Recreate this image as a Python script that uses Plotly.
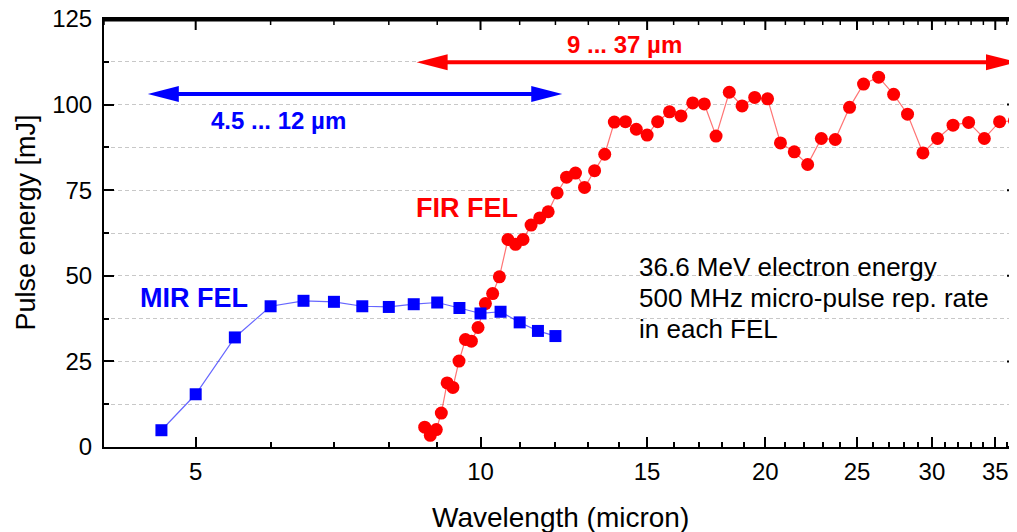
import math
import plotly.graph_objects as go

# ---------------- data ----------------
mir_x = [4.6, 5.0, 5.5, 6.0, 6.5, 7.0, 7.5, 8.0, 8.5, 9.0, 9.5, 10.0, 10.5, 11.0, 11.5, 12.0]
mir_y = [4.9, 15.4, 32.0, 41.1, 42.7, 42.4, 41.1, 40.9, 41.7, 42.2, 40.6, 39.0, 39.5, 36.4, 33.9, 32.4]

fir_x = [8.73, 8.85, 8.98, 9.09, 9.22, 9.35, 9.49, 9.64, 9.78, 9.94,
         10.12, 10.30, 10.47, 10.69, 10.89, 11.09, 11.31, 11.55, 11.79, 12.05,
         12.33, 12.60, 12.88, 13.20, 13.53, 13.85, 14.23, 14.61, 15.00, 15.39,
         15.84, 16.29, 16.76, 17.24, 17.74, 18.32, 18.90, 19.49, 20.11, 20.75,
         21.46, 22.17, 22.92, 23.71, 24.55, 25.40, 26.35, 27.33, 28.27, 29.35,
         30.41, 31.58, 32.80, 34.08, 35.37, 36.68]
fir_y = [5.8, 3.4, 5.1, 9.9, 18.7, 17.4, 25.1, 31.4, 30.9, 34.9,
         41.9, 44.8, 49.7, 60.6, 59.2, 60.6, 64.8, 66.9, 68.7, 74.2,
         78.8, 80.0, 75.8, 80.7, 85.5, 94.9, 95.0, 92.8, 91.1, 95.0,
         97.9, 96.7, 100.5, 100.2, 90.8, 103.6, 99.6, 102.1, 101.7, 88.8,
         86.2, 82.5, 90.1, 89.8, 99.2, 106.0, 108.0, 103.0, 97.2, 85.9,
         90.1, 94.0, 94.8, 90.1, 95.0, 95.3]

# tuning ranges shown as double arrows: [start, end], level
mir_range = [4.45, 12.2]
mir_level = 103.1
fir_range = [8.56, 36.9]
fir_level = 112.4

x_tickvals = [5, 10, 15, 20, 25, 30, 35]
x_ticktext = ["5", "10", "15", "20", "25", "30", "35"]
x_minor = [4, 6, 7, 8, 9, 11, 12, 13, 14, 16, 17, 18, 19, 21, 22, 23, 24,
           26, 27, 28, 29, 31, 32, 33, 34, 36]
y_tickvals = [0, 25, 50, 75, 100, 125]
y_minor = [12.5, 37.5, 62.5, 87.5, 112.5]

BLUE = "#0000ff"
RED = "#ff0000"
FONT = "Liberation Sans, Arial, sans-serif"

# plot area in screen pixels: x 104..1017, y 19..447 (page body has an 8px margin)
PW, PH = 913.0, 428.0

fig = go.Figure()
fig.add_trace(go.Scatter(
    x=fir_x, y=fir_y, mode="lines+markers",
    line=dict(color="rgba(255,0,0,0.55)", width=1.2),
    marker=dict(symbol="circle", size=13, color=RED),
    showlegend=False))
fig.add_trace(go.Scatter(
    x=mir_x, y=mir_y, mode="lines+markers",
    line=dict(color="rgba(0,0,255,0.6)", width=1.2),
    marker=dict(symbol="square", size=12, color=BLUE),
    showlegend=False))

HEAD_L, HEAD_W = 31, 8
ann = []
shapes = []
for rng, lvl, col in [(mir_range, mir_level, BLUE), (fir_range, fir_level, RED)]:
    ann.append(dict(x=math.log10(rng[1]), y=lvl, ax=math.log10(rng[0]), ay=lvl,
                    xref="x", yref="y", axref="x", ayref="y", text="",
                    showarrow=True, arrowhead=0, arrowwidth=4, arrowcolor=col,
                    standoff=HEAD_L - 6, startstandoff=HEAD_L - 6))
    shapes.append(dict(type="path", xref="x", yref="y", xsizemode="pixel", ysizemode="pixel",
                       xanchor=rng[0], yanchor=lvl,
                       path=f"M0,0 L{HEAD_L},{HEAD_W} L{HEAD_L},{-HEAD_W} Z",
                       fillcolor=col, line=dict(width=0), layer="above"))
    shapes.append(dict(type="path", xref="x", yref="y", xsizemode="pixel", ysizemode="pixel",
                       xanchor=rng[1], yanchor=lvl,
                       path=f"M0,0 L{-HEAD_L},{HEAD_W} L{-HEAD_L},{-HEAD_W} Z",
                       fillcolor=col, line=dict(width=0), layer="above"))

# frame: top and right lines with inward ticks
shapes.append(dict(type="line", xref="paper", yref="paper", x0=0, x1=1, y0=0.997, y1=0.997,
                   line=dict(color="black", width=2.5), layer="above"))
shapes.append(dict(type="line", xref="paper", yref="paper", x0=0.999, x1=0.999, y0=0, y1=1,
                   line=dict(color="black", width=2.5), layer="above"))
for vals, ln, w in [(x_tickvals, 11, 2), (x_minor, 6, 1.5)]:
    for v in vals:
        shapes.append(dict(type="line", xref="x", yref="paper", x0=v, x1=v,
                           y0=1, y1=1 - ln / PH, line=dict(color="black", width=w),
                           layer="above"))
for vals, ln, w in [(y_tickvals, 10, 2), (y_minor, 5, 1.5)]:
    for v in vals:
        shapes.append(dict(type="line", xref="paper", yref="y", x0=1, x1=1 - ln / PW,
                           y0=v, y1=v, line=dict(color="black", width=w), layer="above"))

def px(xp):
    return (xp - 104) / PW

def py(yp):
    return (447 - yp) / PH

def label(text, xp, yp, size, color="black", bold=False, xanchor="center", angle=0):
    t = f"<b>{text}</b>" if bold else text
    ann.append(dict(x=px(xp), y=py(yp), xref="paper", yref="paper", text=t,
                    showarrow=False, xanchor=xanchor, yanchor="middle", textangle=angle,
                    font=dict(family=FONT, size=size, color=color)))

label("4.5 ... 12 µm", 278, 121, 24, BLUE, True)
label("9 ... 37 µm", 624, 44, 24, RED, True)
label("FIR FEL", 466.5, 208, 27, RED, True)
label("MIR FEL", 194, 297.5, 27, BLUE, True)
label("36.6 MeV electron energy", 637, 267, 26, xanchor="left")
label("500 MHz micro-pulse rep. rate", 637, 298, 26, xanchor="left")
label("in each FEL", 637, 329, 26, xanchor="left")
label("Wavelength (micron)", 560.5, 517, 28)
label("Pulse energy [mJ]", 25, 222.5, 27, angle=-90)

GRID = dict(gridcolor="#c8c8c8", griddash="4px,3px", gridwidth=1)

fig.update_layout(
    width=1009, height=524,
    margin=dict(l=96, r=0, t=11, b=85, autoexpand=False),
    paper_bgcolor="white", plot_bgcolor="white",
    showlegend=False,
    annotations=ann, shapes=shapes,
    font=dict(family=FONT, size=24, color="black"),
    xaxis=dict(type="log", range=[math.log10(4.0), math.log10(36.9)],
               tickmode="array", tickvals=x_tickvals, ticktext=x_ticktext,
               ticks="inside", ticklen=10, tickwidth=2, tickcolor="black",
               showline=True, linewidth=2, linecolor="black", mirror=True,
               showgrid=False, zeroline=False, automargin=False,
               ticklabelstandoff=2, ticklabeloverflow="allow",
               tickfont=dict(family=FONT, size=24),
               minor=dict(tickmode="array", tickvals=x_minor, ticks="inside",
                          ticklen=5, tickwidth=1.5, tickcolor="black", showgrid=False)),
    yaxis=dict(range=[0, 125], tickmode="array", tickvals=y_tickvals,
               ticks="inside", ticklen=10, tickwidth=2, tickcolor="black",
               showline=True, linewidth=2, linecolor="black", mirror=True,
               showgrid=True, zeroline=False, automargin=False, **GRID,
               ticklabelstandoff=5, ticklabeloverflow="allow",
               tickfont=dict(family=FONT, size=24),
               minor=dict(tickmode="array", tickvals=y_minor, ticks="inside", ticklen=5,
                          tickwidth=1.5, tickcolor="black", showgrid=True, **GRID)),
)

fig.write_html("out.html")
